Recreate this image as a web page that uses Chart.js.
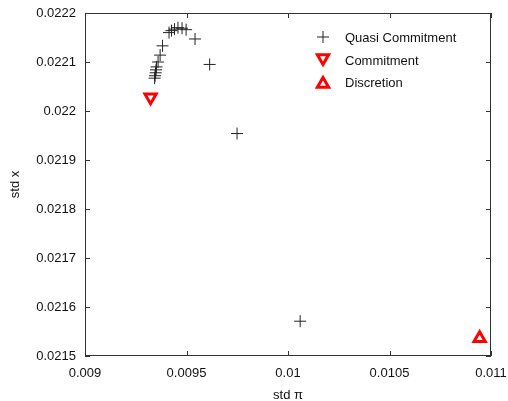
<!DOCTYPE html>
<html>
<head>
<meta charset="utf-8">
<script src="https://cdn.jsdelivr.net/npm/chart.js@4.4.0/dist/chart.umd.min.js"></script>
<style>
  html, body { margin: 0; padding: 0; background: #fff; }
  #wrap { width: 508px; height: 401px; }
</style>
</head>
<body>
<div id="wrap"><canvas id="chart" width="508" height="401"></canvas></div>
<script>
// values
const quasiX = [0.009343, 0.009345, 0.009348, 0.00935, 0.009352, 0.00936, 0.00937, 0.009382,
                0.009414, 0.009426, 0.009441, 0.009458, 0.009478, 0.009498, 0.009542, 0.009614,
                0.009749, 0.01006];
const quasiY = [0.022067, 0.022072, 0.022078, 0.022084, 0.02209, 0.0221, 0.022114, 0.022133,
                0.02216, 0.022164, 0.022167, 0.02217, 0.022169, 0.022166, 0.022147, 0.022095,
                0.021954, 0.021571];
const commitX = [0.009323];
const commitY = [0.022028];
const discX = [0.010944];
const discY = [0.021536];

const xTicks = [0.009, 0.0095, 0.01, 0.0105, 0.011];
const yTicks = [0.0215, 0.0216, 0.0217, 0.0218, 0.0219, 0.022, 0.0221, 0.0222];
const labels = ['Quasi Commitment', 'Commitment', 'Discretion'];

const FONT = "'Liberation Sans', Arial, Helvetica, sans-serif";
const pts = (xs, ys) => xs.map((x, i) => ({ x: x, y: ys[i] }));

// gnuplot-like frame with inward ticks on all four sides
const framePlugin = {
  id: 'frame',
  afterDraw(chart) {
    const { ctx, chartArea: a, scales } = chart;
    ctx.save();
    ctx.strokeStyle = '#333';
    ctx.lineWidth = 1;
    ctx.strokeRect(a.left + 0.5, a.top + 0.5, a.right - a.left - 1, a.bottom - a.top - 1);
    ctx.beginPath();
    xTicks.forEach(v => {
      const px = Math.round(scales.x.getPixelForValue(v)) + 0.5;
      ctx.moveTo(px, a.bottom); ctx.lineTo(px, a.bottom - 5);
      ctx.moveTo(px, a.top); ctx.lineTo(px, a.top + 5);
    });
    yTicks.forEach(v => {
      const py = Math.round(scales.y.getPixelForValue(v)) + 0.5;
      ctx.moveTo(a.left, py); ctx.lineTo(a.left + 5, py);
      ctx.moveTo(a.right, py); ctx.lineTo(a.right - 5, py);
    });
    ctx.stroke();

    // key in the upper right
    const rows = [37, 60, 82];
    chart.data.datasets.forEach((ds, i) => {
      ctx.strokeStyle = ds.borderColor;
      ctx.fillStyle = 'rgba(0,0,0,0)';
      ctx.lineWidth = ds.borderWidth;
      const dy = ds.pointStyle === 'triangle' ? (ds.rotation ? -2 : 2) : 0;
      Chart.helpers.drawPoint(ctx, {
        pointStyle: ds.pointStyle, rotation: ds.rotation || 0,
        radius: ds.pointRadius, borderWidth: ds.borderWidth
      }, 323, rows[i] + dy);
      ctx.fillStyle = '#111';
      ctx.font = '13px ' + FONT;
      ctx.textBaseline = 'middle';
      ctx.textAlign = 'left';
      ctx.fillText(ds.label, 345, rows[i] + 1);
    });
    ctx.restore();
  }
};

new Chart(document.getElementById('chart'), {
  type: 'scatter',
  data: {
    datasets: [
      {
        label: labels[0],
        data: pts(quasiX, quasiY),
        pointStyle: 'cross',
        pointRadius: 6,
        borderColor: '#222',
        borderWidth: 1
      },
      {
        label: labels[1],
        data: pts(commitX, commitY),
        pointStyle: 'triangle',
        rotation: 180,
        pointRotation: 180,
        pointRadius: 6.5,
        borderColor: '#ff0000',
        backgroundColor: 'rgba(0,0,0,0)',
        borderWidth: 3
      },
      {
        label: labels[2],
        data: pts(discX, discY),
        pointStyle: 'triangle',
        pointRadius: 6.5,
        borderColor: '#ff0000',
        backgroundColor: 'rgba(0,0,0,0)',
        borderWidth: 3
      }
    ]
  },
  options: {
    responsive: false,
    animation: false,
    layout: { padding: { top: 13, right: 17, left: 0, bottom: 0 } },
    plugins: {
      legend: { display: false },
      tooltip: { enabled: false }
    },
    scales: {
      x: {
        type: 'linear',
        min: 0.009,
        max: 0.011,
        afterFit(s) { s.height = 45; s.paddingLeft = 0; s.paddingRight = 0; },
        afterBuildTicks(s) { s.ticks = xTicks.map(v => ({ value: v })); },
        grid: { display: false, drawTicks: false },
        border: { display: false },
        ticks: {
          color: '#111',
          padding: 10,
          maxRotation: 0,
          autoSkip: false,
          font: { family: FONT, size: 13 },
          callback: v => String(v)
        },
        title: {
          display: true,
          text: 'std π',
          color: '#111',
          padding: { top: 0, bottom: -2 },
          font: { family: FONT, size: 13 }
        }
      },
      y: {
        type: 'linear',
        min: 0.0215,
        max: 0.0222,
        afterFit(s) { s.width = 85; s.paddingTop = 0; s.paddingBottom = 0; },
        afterBuildTicks(s) { s.ticks = yTicks.map(v => ({ value: v })); },
        grid: { display: false, drawTicks: false },
        border: { display: false },
        ticks: {
          color: '#111',
          padding: 9,
          autoSkip: false,
          font: { family: FONT, size: 13 },
          callback: v => String(v)
        },
        title: {
          display: true,
          text: 'std x',
          color: '#111',
          padding: { top: 8, bottom: 0 },
          font: { family: FONT, size: 13 }
        }
      }
    }
  },
  plugins: [framePlugin]
});
</script>
</body>
</html>
